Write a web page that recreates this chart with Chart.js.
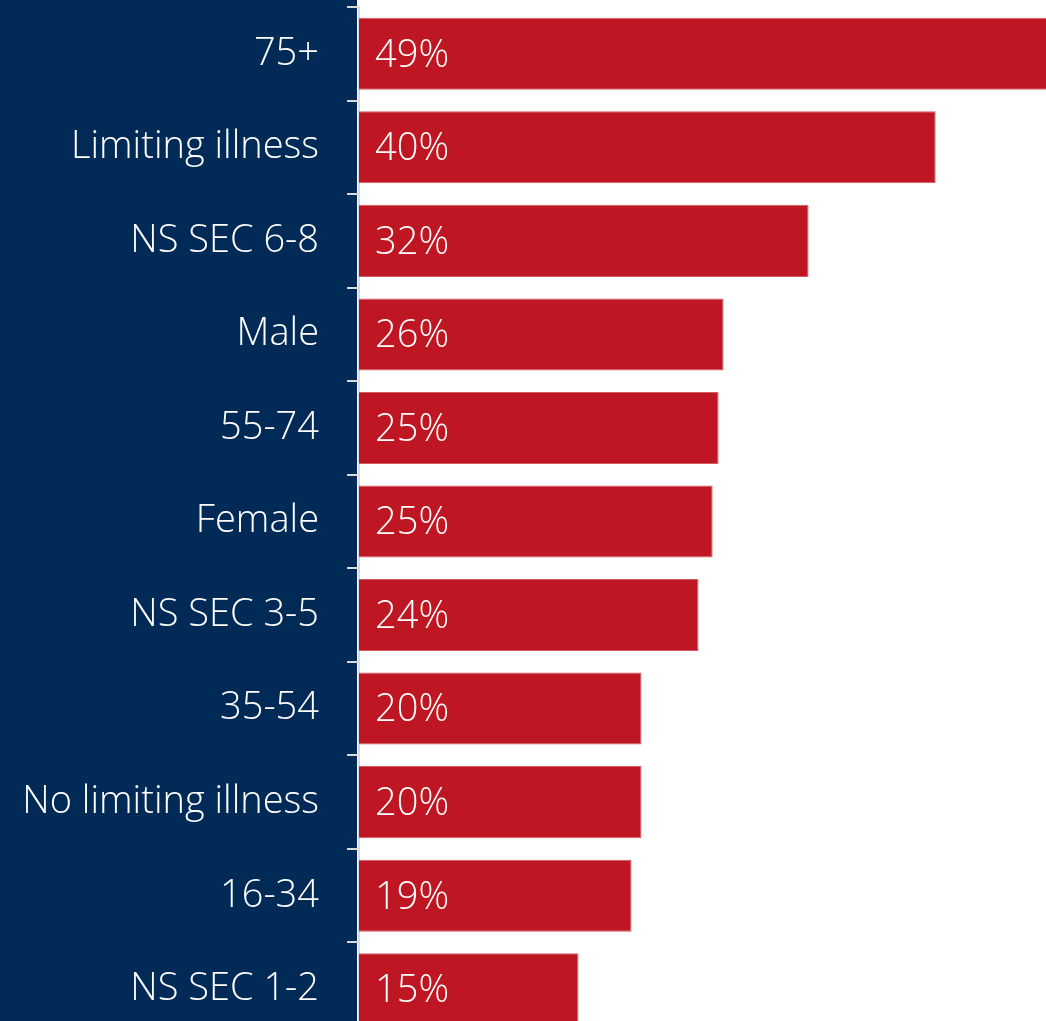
<!DOCTYPE html>
<html>
<head>
<meta charset="utf-8">
<script src="https://cdn.jsdelivr.net/npm/chart.js@4.4.1/dist/chart.umd.min.js"></script>
<style>
  html, body { margin: 0; padding: 0; background: #ffffff; overflow: hidden; }
  #wrap { position: relative; width: 1046px; height: 1036px; }
</style>
</head>
<body>
<div id="wrap"><canvas id="chart"></canvas></div>
<script>
/* ================== DATA ================== */
const categories = [
  '75+', 'Limiting illness', 'NS SEC 6-8', 'Male', '55-74', 'Female',
  'NS SEC 3-5', '35-54', 'No limiting illness', '16-34', 'NS SEC 1-2'
];
const shares = [49.0, 40.46, 31.54, 25.58, 25.23, 24.81, 23.82, 19.82, 19.82, 19.12, 15.4];

const NAVY = '#012a57';
const RED = '#be1622';
const FONT = '"Open Sans", "Noto Sans", sans-serif';

/* ================== PLUGINS ================== */
// navy panel behind the category labels
const navyPanel = {
  id: 'navyPanel',
  beforeDraw(chart) {
    const { ctx, chartArea } = chart;
    ctx.save();
    ctx.fillStyle = NAVY;
    ctx.fillRect(0, 0, chartArea.left - 2, chart.height);
    ctx.restore();
  }
};

// percentage text inside the bars
const valueLabels = {
  id: 'valueLabels',
  afterDatasetsDraw(chart) {
    const { ctx } = chart;
    const meta = chart.getDatasetMeta(0);
    ctx.save();
    ctx.fillStyle = '#ffffff';
    ctx.font = '300 38px ' + FONT;
    ctx.textAlign = 'left';
    ctx.textBaseline = 'middle';
    meta.data.forEach((bar, i) => {
      ctx.fillText(Math.round(shares[i]) + '%', bar.base + 16, bar.y + 2);
    });
    ctx.restore();
  }
};

/* ================== CHART ================== */
new Chart(document.getElementById('chart'), {
  type: 'bar',
  data: {
    labels: categories,
    datasets: [{
      data: shares,
      backgroundColor: RED,
      borderColor: '#d45a63',
      borderWidth: 1,
      barPercentage: 0.77,
      categoryPercentage: 1
    }]
  },
  options: {
    indexAxis: 'y',
    responsive: true,
    maintainAspectRatio: false,
    animation: false,
    layout: { padding: { top: 7, right: 0, bottom: 0, left: 0 } },
    plugins: {
      legend: { display: false },
      tooltip: { enabled: false }
    },
    scales: {
      x: {
        display: false,
        min: 0,
        max: 48.2
      },
      y: {
        afterFit(scale) {
          scale.width = 359;
          scale.paddingTop = 0;
          scale.paddingBottom = 0;
        },
        border: { display: true, color: '#d9d9d9', width: 2 },
        grid: {
          offset: true,
          drawOnChartArea: false,
          drawTicks: true,
          tickLength: 12,
          tickColor: '#d9d9d9',
          lineWidth: 2
        },
        ticks: {
          color: '#ffffff',
          padding: 28,
          font: { family: FONT, size: 38, weight: '300' }
        }
      }
    }
  },
  plugins: [navyPanel, valueLabels]
});
</script>
</body>
</html>
